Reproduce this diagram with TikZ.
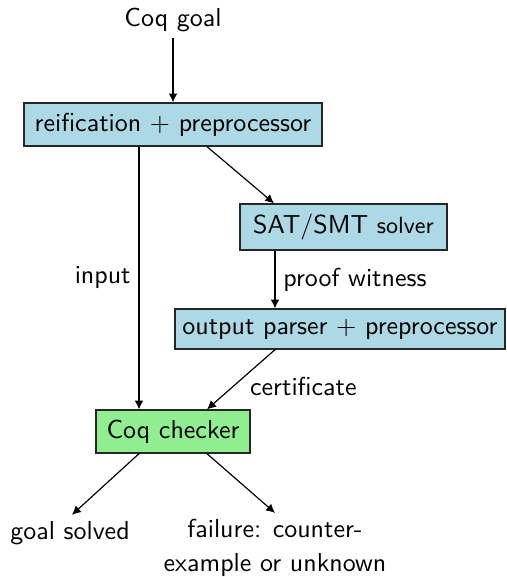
\documentclass[tikz,border=0pt]{standalone}
\usetikzlibrary{calc,arrows.meta}
\renewcommand{\familydefault}{\sfdefault}
\newcommand{\pxu}{0.385pt}
\definecolor{boxblue}{RGB}{173,216,230}
\definecolor{boxgreen}{RGB}{144,238,144}
\begin{document}
\begin{tikzpicture}[x=0.385pt,y=-0.385pt,
  font=\sffamily,
  every node/.style={inner sep=0pt},
  proc/.style={draw=black!85, fill=boxblue, line width=0.5pt},
  chkbox/.style={draw=black!85, fill=boxgreen, line width=0.5pt},
  conn/.style={-{Latex[length=3.4pt,width=3.4pt]}, line width=0.45pt},
  lbl/.style={inner sep=0pt}]
\useasboundingbox (0,0) rectangle (506,577);
\node (goal) at (173,20) {Coq goal};
\node[proc, minimum width=298*\pxu, minimum height=43*\pxu] (reif) at (173,124.5) {reification $+$ preprocessor};
\node[proc, minimum width=207*\pxu, minimum height=46*\pxu] (sat) at (343.5,227) {SAT/SMT {\small solver}};
\node[proc, minimum width=330*\pxu, minimum height=40*\pxu] (out) at (340,329) {output parser $+$ preprocessor};
\node[chkbox, minimum width=154*\pxu, minimum height=43*\pxu] (chk) at (173,431.5) {Coq checker};
\node (solved) at (70,533) {goal solved};
\node[align=center] (fail) at (275,548) {failure: counter-\\[1pt]example or unknown};
\draw[conn] ($(goal.south)+(0,6)$) -- (reif.north);
\draw[conn] ($(reif.south)+(-34,0)$) -- ($(chk.north)+(-34,0)$)
  node[lbl, pos=0.5, anchor=east, xshift=-3pt] (inlbl) {input};
\draw[conn] ($(reif.south)+(34,0)$) -- ($(sat.north)+(-69.5,0)$);
\draw[conn] ($(sat.south)+(-68.5,0)$) -- ($(out.north)+(-65,0)$)
  node[lbl, pos=0.5, anchor=west, xshift=3pt] (pwlbl) {proof witness};
\draw[conn] ($(out.south)+(-65,0)$) -- ($(chk.north)+(34,0)$)
  node[lbl, pos=0.45, anchor=west, xshift=2pt, yshift=-4pt] (celbl) {certificate};
\draw[conn] ($(chk.south)+(-34,0)$) -- ($(solved.north)+(2,-6)$);
\draw[conn] ($(chk.south)+(34,0)$) -- ($(fail.north)+(0,-6)$);
\end{tikzpicture}
\end{document}
